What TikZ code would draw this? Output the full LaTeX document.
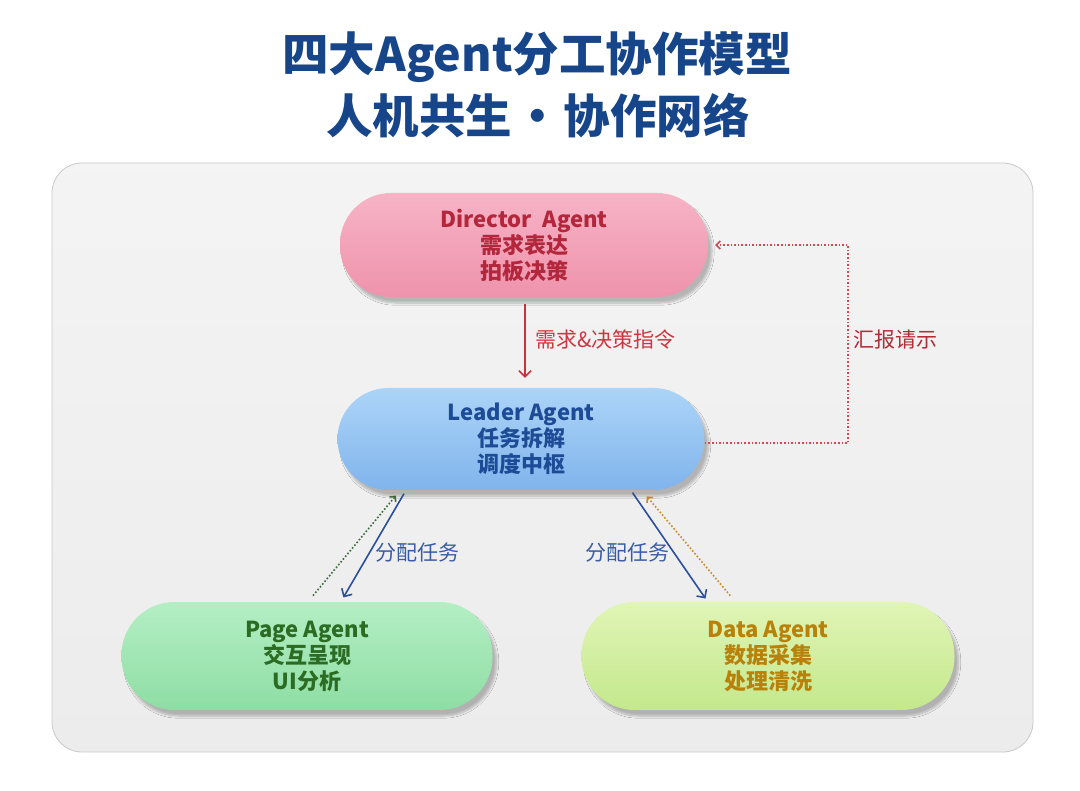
\documentclass[tikz,border=0pt]{standalone}
\usepackage{fontspec}
\setmainfont{Noto Sans CJK SC}
\usetikzlibrary{arrows.meta,shadows.blur,calc}
\definecolor{titleblue}{HTML}{16458A}
\definecolor{panelfill}{HTML}{ECECEC}
\definecolor{panelline}{HTML}{C9C9C9}
\definecolor{pinkA}{HTML}{F7B3C6}
\definecolor{pinkB}{HTML}{EE93AC}
\definecolor{pinkT}{HTML}{B3263B}
\definecolor{blueA}{HTML}{ACD4F8}
\definecolor{blueB}{HTML}{80B4EC}
\definecolor{blueT}{HTML}{1D4B96}
\definecolor{greenA}{HTML}{B4EFC4}
\definecolor{greenB}{HTML}{8EDDA4}
\definecolor{greenT}{HTML}{2B6B22}
\definecolor{limeA}{HTML}{E0F5B6}
\definecolor{limeB}{HTML}{C4E88C}
\definecolor{limeT}{HTML}{B8820A}
\definecolor{redarrow}{HTML}{C8323C}
\definecolor{redlabel}{HTML}{D0343F}
\definecolor{bluearrow}{HTML}{2A4F9C}
\definecolor{bluelabel}{HTML}{3A5CA8}
\definecolor{reddot}{HTML}{D44A50}
\definecolor{greendot}{HTML}{3C6A3C}
\definecolor{orangedot}{HTML}{C88A2A}
\tikzset{
  pill/.style={rounded corners=51pt, minimum height=104pt, align=center,
    font=\fontsize{22}{26}\selectfont\bfseries,
    blur shadow={shadow xshift=4pt, shadow yshift=-6pt, shadow blur steps=8, shadow opacity=25}},
  solidarrow/.style={line width=1.6pt, -{Straight Barb[length=6pt,width=12pt]}},
  dotarrow/.style={line width=1.6pt, dotted, -{Straight Barb[length=4pt,width=8pt]}},
  lbl/.style={font=\fontsize{21}{24}\selectfont, inner sep=2pt}
}
\begin{document}
\begin{tikzpicture}[x=1pt,y=-1pt]
\useasboundingbox (0,0) rectangle (1080,791);
\fill[white] (0,0) rectangle (1080,791);
% title
\node[font=\fontsize{46.5}{50}\selectfont\bfseries, text=titleblue] (t1) at (537,57) {四大Agent分工协作模型};
\node[font=\fontsize{46.5}{50}\selectfont\bfseries, text=titleblue] (t2) at (538,116) {人机共生\makebox[52pt]{·}协作网络};
% panel
\node[draw=panelline, line width=0.8pt, rounded corners=30pt, top color=panelfill!60!white, bottom color=panelfill,
  minimum width=981pt, minimum height=589pt, inner sep=0pt] (panel) at (542.5,457.5) {};
% pills
\node[pill, minimum width=368pt, top color=pinkA, bottom color=pinkB, text=pinkT] (dir) at (524,245)
  {Director\hspace{0.5em}Agent\\需求表达\\拍板决策};
\node[pill, minimum width=367pt, minimum height=102pt, top color=blueA, bottom color=blueB, text=blueT] (lead) at (521,439)
  {Leader Agent\\任务拆解\\调度中枢};
\node[pill, minimum width=371pt, minimum height=108pt, rounded corners=53pt, top color=greenA, bottom color=greenB, text=greenT] (page) at (307,656)
  {Page Agent\\交互呈现\\UI分析};
\node[pill, minimum width=373pt, minimum height=108pt, rounded corners=53pt, top color=limeA, bottom color=limeB, text=limeT] (data) at (768,656)
  {Data Agent\\数据采集\\处理清洗};
% director -> leader
\draw[solidarrow, redarrow, shorten <=7pt, shorten >=10pt] (dir.south -| 525,0) coordinate (dA) -- (lead.north -| dA);
\node[lbl, text=redlabel, anchor=west] (lbl1) at (533,340) {需求\&决策指令};
% feedback dotted
\coordinate (fb) at (848,245);
\draw[dotarrow, reddot, shorten >=7pt] ([yshift=-4pt]lead.east) -- ([yshift=-4pt]lead.east -| fb) -- (fb) -- (dir.east);
\node[lbl, text=redlabel!85!black, anchor=west] (lbl2) at (851,340) {汇报请示};
% leader -> page
\draw[solidarrow, bluearrow, shorten <=4pt, shorten >=5pt] (lead.204) -- (page.58.6);
\draw[dotarrow, greendot, shorten <=8pt, shorten >=7pt] (page.89) -- (lead.203.4);
\node[lbl, text=bluelabel, anchor=west] (lbl3) at (373,553) {分配任务};
% leader -> data
\draw[solidarrow, bluearrow, shorten <=3pt, shorten >=4pt] (lead.335.1) -- (data.138);
\draw[dotarrow, orangedot, shorten <=8pt, shorten >=8pt] (data.121.4) -- (lead.337);
\node[lbl, text=bluelabel, anchor=west] (lbl4) at (583,553) {分配任务};
\end{tikzpicture}
\end{document}
